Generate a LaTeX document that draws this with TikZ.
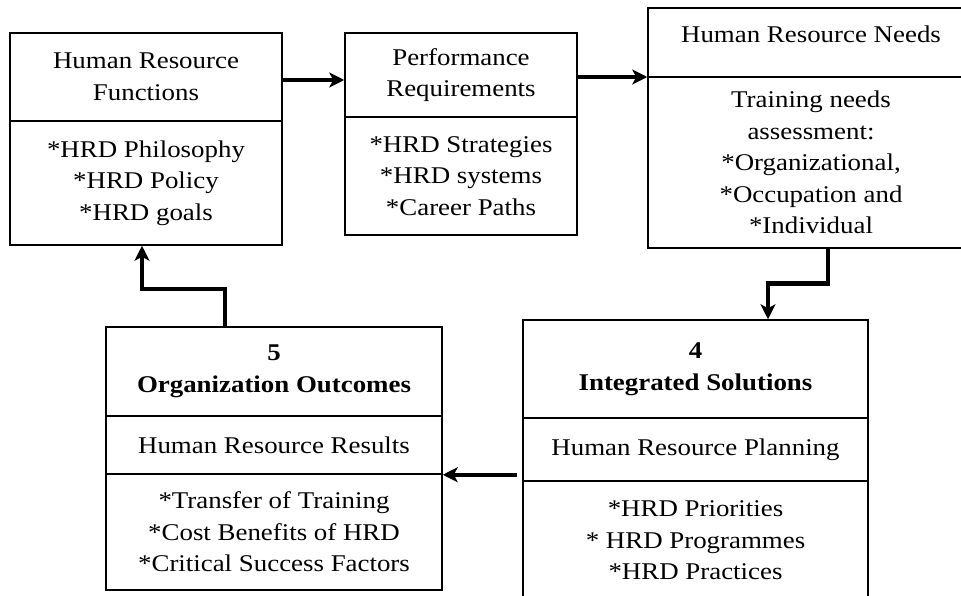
\documentclass[tikz,border=0pt]{standalone}
\usepackage{fontspec}
\setmainfont{Liberation Serif}[FakeStretch=1.12]
\usetikzlibrary{arrows.meta,calc}

\tikzset{
  cell/.style={draw, line width=1.5pt, align=center, inner sep=0pt,
    font=\fontsize{24}{31.5}\selectfont},
  flow/.style={line width=4.5pt, -{Stealth[length=15pt,width=15pt,inset=4pt]}},
}

\begin{document}
\begin{tikzpicture}[x=1pt,y=-1pt]
\useasboundingbox (0,0) rectangle (961,595);
\clip (0,0) rectangle (961,595);

% Human Resource Functions
\node[cell, minimum width=272pt, minimum height=88pt] (h1) at (146,77)
  {Human Resource\\Functions};
\node[cell, minimum width=272pt, minimum height=124pt] (b1) at (146,183)
  {*HRD Philosophy\\*HRD Policy\\*HRD goals};

% Performance Requirements
\node[cell, minimum width=232pt, minimum height=84pt] (h2) at (461,75)
  {Performance\\Requirements};
\node[cell, minimum width=232pt, minimum height=118pt] (b2) at (461,176)
  {*HRD Strategies\\*HRD systems\\*Career Paths};

% Human Resource Needs
\node[cell, minimum width=326pt, minimum height=69pt, text depth=16pt] (h3) at (811,42.5)
  {Human Resource Needs};
\node[cell, minimum width=326pt, minimum height=171pt] (b3) at (811,162.5)
  {Training needs\\assessment:\\*Organizational,\\*Occupation and\\*Individual};

% 4 Integrated Solutions
\node[cell, minimum width=345pt, minimum height=98pt] (h4) at (695.5,369)
  {\textbf{4}\\\textbf{Integrated Solutions}};
\node[cell, minimum width=345pt, minimum height=63pt] (p4) at (695.5,449.5)
  {Human Resource Planning};
\node[cell, minimum width=345pt, minimum height=119pt] (b4) at (695.5,540.5)
  {*HRD Priorities\\* HRD Programmes\\*HRD Practices};

% 5 Organization Outcomes
\node[cell, minimum width=336pt, minimum height=89pt] (h5) at (274,371.5)
  {\textbf{5}\\\textbf{Organization Outcomes}};
\node[cell, minimum width=336pt, minimum height=58pt] (r5) at (274,445)
  {Human Resource Results};
\node[cell, minimum width=336pt, minimum height=116pt] (b5) at (274,532)
  {*Transfer of Training\\*Cost Benefits of HRD\\*Critical Success Factors};

% cycle connectors
\coordinate (s12) at ([yshift=-3pt]h1.east);
\coordinate (s23) at ([yshift=-2pt]h2.east);
\coordinate (s45) at ($(p4.west |- r5.south east)+(-5,0)$);
\draw[flow] (s12) -- (s12 -| h2.west);
\draw[flow] (s23) -- (s23 -| b3.west);
\draw[flow] ([xshift=17pt]b3.south) |- ([xshift=72.5pt,yshift=36pt]h4.north)
  -- ([xshift=72.5pt]h4.north);
\draw[flow] (s45) -- (s45 -| r5.east);
\draw[flow] ([xshift=-49pt]h5.north) |- ([xshift=-4pt,yshift=-43pt]b1.south)
  -- ([xshift=-4pt]b1.south);
\end{tikzpicture}
\end{document}
